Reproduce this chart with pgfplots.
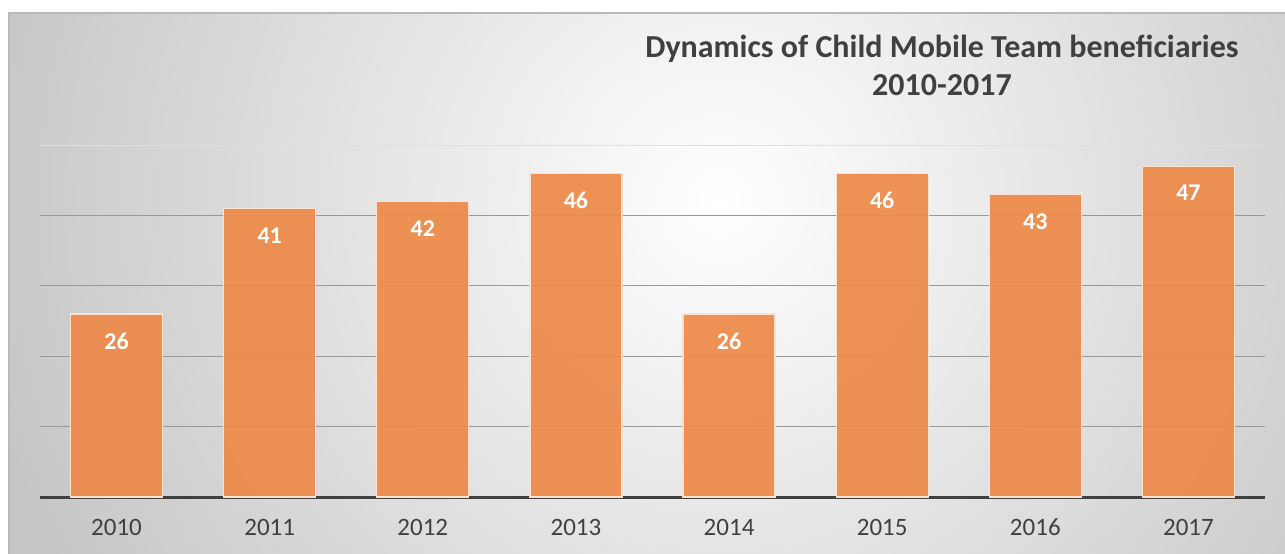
\documentclass[border=0pt]{standalone}
\usepackage{fontspec}
\setmainfont{Carlito}
\usepackage{pgfplots}
\pgfplotsset{compat=1.18}
\definecolor{barc}{RGB}{237,137,72}
\definecolor{txt}{RGB}{64,64,64}
\begin{document}
\begin{tikzpicture}[x=1pt,y=1pt]
\useasboundingbox (0,0) rectangle (642.5,276.5);
\fill[white] (0,0) rectangle (642.5,276.5);
\begin{scope}
\clip (4.5,-3) rectangle (645,270);
\fill[gray!45] (4.5,-3) rectangle (645,270);
\shade[inner color=white, outer color=gray!45] (360,176) circle (380);
\end{scope}
\draw[gray!55, line width=0.8pt] (4.5,-3) -- (4.5,270) -- (645,270);
\begin{axis}[
  at={(20pt,28pt)}, anchor=south west,
  scale only axis, width=612.5pt, height=176pt,
  xmin=-0.5, xmax=7.5, ymin=0, ymax=50,
  /pgf/number format/assume math mode=true,
  axis line style={draw=none},
  major tick length=0pt,
  xtick={0,...,7},
  xticklabels={2010,2011,2012,2013,2014,2015,2016,2017},
  xticklabel style={anchor=center, yshift=-15pt, text=txt, font=\fontsize{12.5}{13}\selectfont},
  ytick={10,20,30,40},
  yticklabels={},
  ymajorgrids,
  grid style={black!40, line width=0.6pt},
  extra y ticks={0},
  extra y tick labels={},
  extra y tick style={grid style={txt, line width=1.5pt}},
]
\draw[gray!25, line width=0.6pt] (axis cs:-0.5,50) -- (axis cs:7.5,50);
\addplot[ybar, bar width=46pt, fill=barc, fill opacity=0.92, draw=white!75!barc, line width=0.6pt,
  nodes near coords,
  nodes near coords style={text=white, text opacity=1, font=\bfseries\fontsize{12}{12}\selectfont, anchor=center, yshift=-13.5pt}]
  coordinates {(0,26)(1,41)(2,42)(3,46)(4,26)(5,46)(6,43)(7,47)};
\end{axis}
\node[align=center, text=txt, font=\bfseries\fontsize{16}{19}\selectfont] at (471,244) {Dynamics of Child Mobile Team beneficiaries\\2010-2017};
\end{tikzpicture}
\end{document}
